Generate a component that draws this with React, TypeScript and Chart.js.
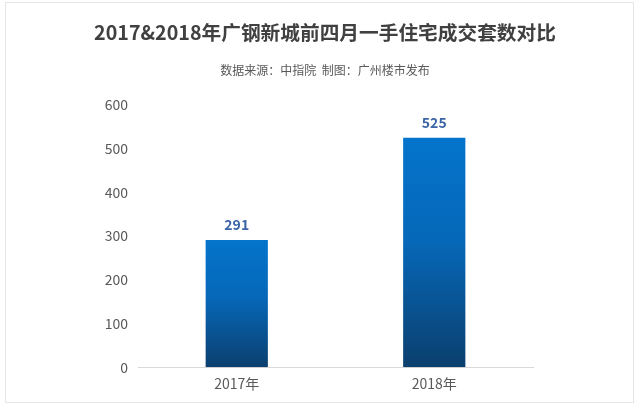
import React, { useEffect, useRef } from "react";
import { Chart, registerables } from "chart.js";

Chart.register(...registerables);

const categories = ["2017年", "2018年"];
const values = [291, 525];
const yTicks = [0, 100, 200, 300, 400, 500, 600];
const titleText = "2017&2018年广钢新城前四月一手住宅成交套数对比";
const subtitleText = "数据来源：中指院  制图：广州楼市发布";

const FONT = "'Microsoft YaHei', 'Noto Sans CJK SC', 'Noto Sans', sans-serif";

export default function App() {
  const ref = useRef<HTMLCanvasElement | null>(null);

  useEffect(() => {
    if (!ref.current) return;

    const decor = {
      id: "decor",
      beforeDraw(chart: any) {
        const ctx = chart.ctx;
        ctx.save();
        ctx.fillStyle = "#ffffff";
        ctx.fillRect(0, 0, chart.width, chart.height);
        ctx.strokeStyle = "#E6E6E6";
        ctx.lineWidth = 1;
        ctx.strokeRect(5.5, 2.5, 628, 400);
        ctx.textAlign = "center";
        ctx.textBaseline = "middle";
        ctx.fillStyle = "#404040";
        ctx.font = "bold 19.7px " + FONT;
        ctx.fillText(titleText, 325, 33);
        ctx.fillStyle = "#595959";
        ctx.font = "12px " + FONT;
        ctx.fillText(subtitleText, 325, 70);
        ctx.restore();
      },
      afterDatasetsDraw(chart: any) {
        const ctx = chart.ctx;
        const meta = chart.getDatasetMeta(0);
        ctx.save();
        ctx.fillStyle = "#3B64A6";
        ctx.font = "bold 14px " + FONT;
        ctx.textAlign = "center";
        ctx.textBaseline = "middle";
        meta.data.forEach((bar: any, i: number) => {
          ctx.fillText(String(values[i]), bar.x, bar.y - 15);
        });
        ctx.restore();
      },
    };

    const chart = new Chart(ref.current, {
      type: "bar",
      data: {
        labels: categories,
        datasets: [
          {
            data: values,
            barPercentage: 0.63,
            categoryPercentage: 0.5,
            borderWidth: 0,
            backgroundColor: (c: any) => {
              const ch = c.chart;
              const y = ch.scales?.y;
              if (!y || c.dataIndex === undefined || !ch.chartArea) return "#0670C0";
              const top = y.getPixelForValue(values[c.dataIndex]);
              const bottom = y.getPixelForValue(0);
              if (!isFinite(top) || !isFinite(bottom) || top === bottom) return "#0670C0";
              const g = ch.ctx.createLinearGradient(0, top, 0, bottom);
              g.addColorStop(0, "#0474CC");
              g.addColorStop(0.45, "#0668B8");
              g.addColorStop(1, "#0B3F6E");
              return g;
            },
          },
        ],
      },
      options: {
        animation: false,
        responsive: false,
        maintainAspectRatio: false,
        layout: { padding: { top: 105, bottom: 7, left: 0, right: 107 } },
        plugins: {
          legend: { display: false },
          tooltip: { enabled: false },
          title: { display: false },
        },
        scales: {
          x: {
            grid: { display: false, drawTicks: false },
            border: { display: true, color: "#D9D9D9", width: 1 },
            ticks: { color: "#595959", font: { size: 14, family: FONT }, padding: 8 },
          },
          y: {
            min: 0,
            max: 600,
            afterFit: (s: any) => {
              s.width = 138;
            },
            afterBuildTicks: (s: any) => {
              s.ticks = yTicks.map((v) => ({ value: v }));
            },
            grid: { display: false, drawTicks: false },
            border: { display: false },
            ticks: { color: "#595959", font: { size: 14, family: FONT }, padding: 10 },
          },
        },
      },
      plugins: [decor],
    });
    chart.update();
    return () => chart.destroy();
  }, []);

  return (
    <div style={{ position: "fixed", left: 0, top: 0, width: 640, height: 407, background: "#fff" }}>
      <canvas ref={ref} width={640} height={407} style={{ display: "block", width: 640, height: 407 }} />
    </div>
  );
}
